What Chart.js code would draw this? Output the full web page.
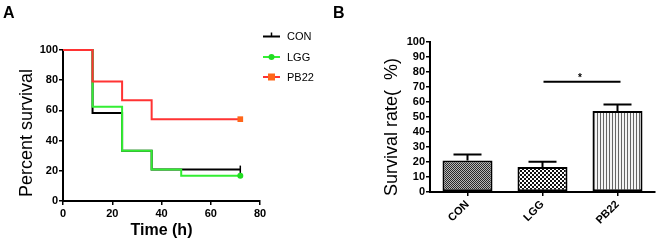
<!DOCTYPE html>
<html>
<head>
<meta charset="utf-8">
<script src="https://cdn.jsdelivr.net/npm/chart.js@4.4.1/dist/chart.umd.min.js"></script>
<style>
  html, body { margin: 0; padding: 0; background: #fff; }
  #wrap { position: relative; width: 660px; height: 248px; overflow: hidden; }
  .panel { position: absolute; top: 0; width: 330px; height: 248px; }
  .lab { position: absolute; font: bold 16px "Liberation Sans", Arial, sans-serif; color: #000; }
</style>
</head>
<body>
<div id="wrap">
  <div class="panel" style="left:0"><canvas id="cA" width="330" height="248"></canvas></div>
  <div class="panel" style="left:330px"><canvas id="cB" width="330" height="248"></canvas></div>
  <div class="lab" style="left:3px; top:4px;">A</div>
  <div class="lab" style="left:333px; top:4px;">B</div>
</div>
<script>
// ---------- Panel A data (Kaplan-Meier survival) ----------
const seriesNames = ['CON', 'LGG', 'PB22'];
const conTime  = [0, 12, 24, 36, 72];
const conSurv  = [100, 58.3, 33.3, 20.8, 20.8];
const lggTime  = [0, 12, 24, 36, 48, 72];
const lggSurv  = [100, 62.5, 33.3, 20.8, 16.7, 16.7];
const pb22Time = [0, 12, 24, 36, 72];
const pb22Surv = [100, 79.2, 66.7, 54.2, 54.2];
const timeTicks = [0, 20, 40, 60, 80];
const survTicks = [0, 20, 40, 60, 80, 100];

// ---------- Panel B data (survival rate bars) ----------
const groups = ['CON', 'LGG', 'PB22'];
const rateMean = [21, 16.7, 54];
const rateErr = [4, 3.5, 4.3];
const rateTicks = [0, 10, 20, 30, 40, 50, 60, 70, 80, 90, 100];
const sigPair = [1, 2];
const sigLevel = 73.5;
const sigLabel = '*';

const FONT = '"Liberation Sans", Arial, sans-serif';

function pts(t, s) { return t.map((x, i) => ({ x: x, y: s[i] })); }
function lastOnly(n, v) { return (ctx) => ctx.dataIndex === n - 1 ? v : 0; }

const styleA = [
  { color: '#000000', marker: 'line', markerColor: '#000000', rot: 90, r: 4 },
  { color: '#33ee33', marker: 'circle', markerColor: '#22dd22', rot: 0, r: 3 },
  { color: '#ff3333', marker: 'rect', markerColor: '#ff6619', rot: 0, r: 4 }
];
const dataA = [pts(conTime, conSurv), pts(lggTime, lggSurv), pts(pb22Time, pb22Surv)];

const legendPlugin = {
  id: 'kmLegend',
  afterDraw(chart) {
    const ctx = chart.ctx;
    const ys = [36.5, 57, 77];
    ctx.save();
    seriesNames.forEach((name, i) => {
      const st = styleA[i];
      const y = ys[i];
      ctx.strokeStyle = st.color;
      ctx.lineWidth = 2;
      ctx.beginPath(); ctx.moveTo(263, y); ctx.lineTo(280, y); ctx.stroke();
      const cx = 271.5;
      if (st.marker === 'line') {
        ctx.lineWidth = 1.5;
        ctx.beginPath(); ctx.moveTo(cx, y - 4); ctx.lineTo(cx, y); ctx.stroke();
      } else if (st.marker === 'circle') {
        ctx.fillStyle = st.markerColor;
        ctx.beginPath(); ctx.arc(cx, y, 3, 0, Math.PI * 2); ctx.fill();
      } else {
        ctx.fillStyle = st.markerColor;
        ctx.fillRect(cx - 3.5, y - 3.5, 7, 7);
      }
      ctx.fillStyle = '#000';
      ctx.font = '11px ' + FONT;
      ctx.textBaseline = 'middle';
      ctx.textAlign = 'left';
      ctx.fillText(name, 287, y + 0.5);
    });
    ctx.restore();
  }
};

new Chart(document.getElementById('cA'), {
  type: 'line',
  data: {
    datasets: seriesNames.map((name, i) => ({
      label: name,
      data: dataA[i],
      stepped: 'before',
      borderColor: styleA[i].color,
      backgroundColor: styleA[i].markerColor,
      borderWidth: 2,
      fill: false,
      clip: false,
      order: 3 - i,
      pointStyle: styleA[i].marker,
      pointRotation: styleA[i].rot,
      pointRadius: lastOnly(dataA[i].length, styleA[i].r),
      pointBorderColor: styleA[i].marker === 'line' ? '#000' : styleA[i].markerColor,
      pointBackgroundColor: styleA[i].markerColor,
      pointBorderWidth: styleA[i].marker === 'line' ? 1.5 : 0,
      pointHoverRadius: 0
    }))
  },
  options: {
    responsive: false,
    animation: false,
    events: [],
    layout: { padding: { left: 10, top: 50, right: 70, bottom: 0 } },
    plugins: { legend: { display: false }, tooltip: { enabled: false } },
    scales: {
      x: {
        type: 'linear', min: 0, max: 80,
        afterBuildTicks: (s) => { s.ticks = timeTicks.map(v => ({ value: v })); },
        afterFit: (s) => { s.height = 47; },
        grid: { drawOnChartArea: false, drawTicks: true, tickLength: 4, color: '#000', lineWidth: 1.5 },
        border: { color: '#000', width: 2 },
        ticks: { color: '#000', font: { family: FONT, size: 11, weight: 'bold' }, padding: 2, maxRotation: 0, autoSkip: false },
        title: { display: true, text: 'Time (h)', color: '#000', font: { family: FONT, size: 16, weight: 'bold' }, padding: { top: 0, bottom: 8 } }
      },
      y: {
        type: 'linear', min: 0, max: 100,
        afterBuildTicks: (s) => { s.ticks = survTicks.map(v => ({ value: v })); },
        afterFit: (s) => { s.width = 53; },
        grid: { drawOnChartArea: false, drawTicks: true, tickLength: 4, color: '#000', lineWidth: 1.5 },
        border: { color: '#000', width: 2 },
        ticks: { color: '#000', font: { family: FONT, size: 11, weight: 'bold' }, padding: 1, autoSkip: false },
        title: { display: true, text: 'Percent survival   ', color: '#000', font: { family: FONT, size: 18 }, padding: { top: 6, bottom: 0 } }
      }
    }
  },
  plugins: [legendPlugin]
});

// ---------- patterns for bars ----------
function makePattern(kind) {
  const c = document.createElement('canvas');
  const g = c.getContext('2d');
  if (kind === 'fine') {
    c.width = 2; c.height = 2;
    g.fillStyle = '#b8b8b8'; g.fillRect(0, 0, 2, 2);
    g.fillStyle = '#2a2a2a'; g.fillRect(0, 0, 1, 1); g.fillRect(1, 1, 1, 1);
  } else if (kind === 'checker') {
    c.width = 4; c.height = 4;
    g.fillStyle = '#fff'; g.fillRect(0, 0, 4, 4);
    g.fillStyle = '#111'; g.fillRect(0, 0, 2, 2); g.fillRect(2, 2, 2, 2);
  } else {
    c.width = 3; c.height = 3;
    g.fillStyle = '#f4f4f4'; g.fillRect(0, 0, 3, 3);
    g.fillStyle = '#666'; g.fillRect(0, 0, 1, 3);
  }
  return g.createPattern(c, 'repeat');
}

const errPlugin = {
  id: 'errSig',
  afterDatasetsDraw(chart) {
    const ctx = chart.ctx;
    const meta = chart.getDatasetMeta(0);
    const ys = chart.scales.y;
    ctx.save();
    ctx.strokeStyle = '#000';
    ctx.lineWidth = 2;
    meta.data.forEach((bar, i) => {
      const x = bar.x;
      const y0 = ys.getPixelForValue(rateMean[i]);
      const y1 = ys.getPixelForValue(rateMean[i] + rateErr[i]);
      ctx.beginPath();
      ctx.moveTo(x, y0); ctx.lineTo(x, y1);
      ctx.moveTo(x - 14, y1); ctx.lineTo(x + 14, y1);
      ctx.stroke();
    });
    const xa = meta.data[sigPair[0]].x + 1;
    const xb = meta.data[sigPair[1]].x + 3;
    const yl = ys.getPixelForValue(sigLevel);
    ctx.beginPath(); ctx.moveTo(xa, yl); ctx.lineTo(xb, yl); ctx.stroke();
    ctx.fillStyle = '#000';
    ctx.font = 'bold 10px ' + FONT;
    ctx.textAlign = 'center';
    ctx.textBaseline = 'alphabetic';
    ctx.fillText(sigLabel, (xa + xb) / 2 - 2, yl - 1);
    ctx.restore();
  }
};

new Chart(document.getElementById('cB'), {
  type: 'bar',
  data: {
    labels: groups,
    datasets: [{
      data: rateMean,
      backgroundColor: [makePattern('fine'), makePattern('checker'), makePattern('stripes')],
      borderColor: '#000',
      borderWidth: 2,
      borderSkipped: false,
      barPercentage: 0.667,
      categoryPercentage: 1
    }]
  },
  options: {
    responsive: false,
    animation: false,
    events: [],
    layout: { padding: { left: 45, top: 42, right: 5, bottom: 0 } },
    plugins: { legend: { display: false }, tooltip: { enabled: false } },
    scales: {
      x: {
        afterFit: (s) => { s.height = 56; },
        grid: { offset: false, drawOnChartArea: false, drawTicks: true, tickLength: 4, color: '#000', lineWidth: 1.5 },
        border: { color: '#000', width: 2 },
        ticks: { color: '#000', font: { family: FONT, size: 11, weight: 'bold' }, minRotation: 45, maxRotation: 45, padding: 2, autoSkip: false }
      },
      y: {
        min: 0, max: 100,
        afterBuildTicks: (s) => { s.ticks = rateTicks.map(v => ({ value: v })); },
        ticks: { color: '#000', font: { family: FONT, size: 11, weight: 'bold' }, padding: 1, autoSkip: false },
        afterFit: (s) => { s.width = 55; },
        grid: { drawOnChartArea: false, drawTicks: true, tickLength: 4, color: '#000', lineWidth: 1.5 },
        border: { color: '#000', width: 2 },
        title: { display: true, text: 'Survival rate(  %)    ', color: '#000', font: { family: FONT, size: 18 }, padding: { top: 6, bottom: 0 } }
      }
    }
  },
  plugins: [errPlugin]
});
</script>
</body>
</html>
